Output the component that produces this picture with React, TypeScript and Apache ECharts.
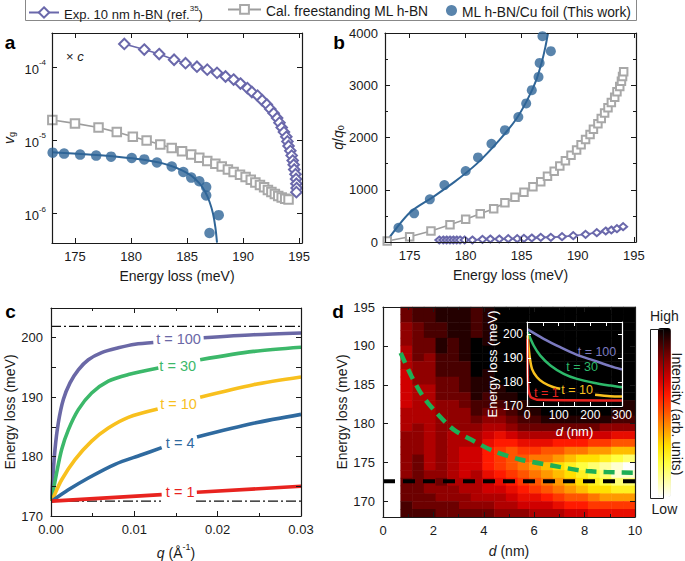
import React, { useEffect, useRef } from 'react';
import * as echarts from 'echarts';

const FONT = '"Liberation Sans", Arial, Helvetica, sans-serif';
const INK = '#1a1a1a';

const EXP = 'Exp. 10 nm h-BN (ref.35)';
const CAL = 'Cal. freestanding ML h-BN';
const CU = 'ML h-BN/Cu foil (This work)';

const PURPLE = '#6a68ab';
const GRAY = '#9d9d9d';
const BLUE = '#2f6597';

// ---------- panel a (group velocity, log) ----------
const expA_E = [179.4, 181.18, 182.51, 183.84, 184.86, 185.88, 186.8, 187.67, 188.43, 189.15, 189.76, 190.38, 190.78, 191.29, 191.7, 192.11, 192.42, 192.72, 193.03, 193.24, 193.44, 193.64, 193.85, 193.95, 194.05, 194.21, 194.33, 194.42, 194.51, 194.56, 194.67, 194.72, 194.75, 194.77, 194.75];
const expA_v = [2.09e-4, 1.75e-4, 1.52e-4, 1.27e-4, 1.14e-4, 1.02e-4, 9.3e-5, 8.4e-5, 7.5e-5, 6.8e-5, 6.0e-5, 5.2e-5, 4.6e-5, 4.1e-5, 3.55e-5, 3.1e-5, 2.7e-5, 2.36e-5, 2.03e-5, 1.75e-5, 1.5e-5, 1.3e-5, 1.12e-5, 9.7e-6, 8.4e-6, 7.2e-6, 6.2e-6, 5.3e-6, 4.65e-6, 4.0e-6, 3.45e-6, 2.97e-6, 2.56e-6, 2.23e-6, 1.96e-6];
const calA_E = [172.98, 175.0, 177.1, 178.73, 180.16, 181.39, 182.61, 183.63, 184.55, 185.37, 186.09, 186.8, 187.52, 188.09, 188.64, 189.15, 189.72, 190.22, 190.68, 191.09, 191.5, 191.87, 192.21, 192.52, 192.83, 193.13, 193.44, 193.75, 194.05];
const calA_v = [1.9e-5, 1.71e-5, 1.5e-5, 1.3e-5, 1.12e-5, 1.0e-5, 8.8e-6, 7.9e-6, 7.1e-6, 6.4e-6, 5.8e-6, 5.25e-6, 4.8e-6, 4.4e-6, 4.0e-6, 3.7e-6, 3.4e-6, 3.15e-6, 2.9e-6, 2.65e-6, 2.45e-6, 2.28e-6, 2.1e-6, 1.97e-6, 1.85e-6, 1.74e-6, 1.65e-6, 1.59e-6, 1.55e-6];
const cuA_E = [173.01, 174.03, 175.46, 176.89, 178.22, 180.06, 181.18, 182.31, 183.63, 184.66, 185.37, 186.09, 186.7, 186.7, 187.82, 187.0];
const cuA_v = [6.8e-6, 6.6e-6, 6.4e-6, 6.2e-6, 6.0e-6, 5.75e-6, 5.5e-6, 5.0e-6, 4.4e-6, 3.7e-6, 3.1e-6, 2.76e-6, 2.3e-6, 1.77e-6, 9.5e-7, 5.4e-7];
const fitA_E = [172.95, 174.85, 176.89, 178.94, 180.98, 182.51, 183.53, 184.55, 185.37, 186.09, 186.6, 187.0, 187.31, 187.52, 187.67];
const fitA_v = [6.9e-6, 6.6e-6, 6.3e-6, 5.95e-6, 5.5e-6, 5.0e-6, 4.5e-6, 3.9e-6, 3.3e-6, 2.6e-6, 2.0e-6, 1.45e-6, 1.0e-6, 6.5e-7, 4.0e-7];

// ---------- panel b (q/q0) ----------
const expB_E = [177.65, 178.0, 178.3, 178.6, 178.9, 179.2, 179.5, 179.9, 180.6, 181.5, 182.2, 183.0, 183.8, 184.6, 185.2, 185.9, 186.7, 187.6, 188.6, 189.6, 190.7, 191.7, 192.5, 193.0, 193.5, 194.05];
const expB_q = [38, 38, 38, 38, 38, 38, 38, 38, 38, 51, 57, 57, 64, 64, 70, 76, 89, 89, 102, 121, 147, 179, 210, 229, 255, 293];
const calB_E = [173.0, 175.0, 176.9, 178.6, 180.0, 181.3, 182.5, 183.5, 184.4, 185.2, 186.0, 186.7, 187.3, 187.9, 188.4, 188.9, 189.4, 189.9, 190.3, 190.7, 191.1, 191.4, 191.8, 192.1, 192.4, 192.7, 193.0, 193.3, 193.5, 193.75, 193.9, 194.0, 194.1];
const calB_q = [20, 101, 210, 331, 434, 541, 637, 752, 855, 950, 1058, 1153, 1256, 1352, 1453, 1554, 1658, 1759, 1860, 1963, 2059, 2160, 2262, 2365, 2467, 2568, 2671, 2772, 2874, 2977, 3078, 3168, 3256];
const cuB_E = [174.0, 175.4, 176.8, 178.1, 180.0, 181.1, 182.3, 183.5, 184.7, 185.4, 185.9, 186.5, 186.6, 186.85, 187.6];
const cuB_q = [273, 549, 816, 1090, 1358, 1619, 1880, 2141, 2390, 2652, 2906, 3160, 3428, 3939, 3652];
const fitB_E = [172.9, 175, 177, 179, 181, 183, 184.5, 185.5, 186.3, 186.8, 187.1, 187.35];
const fitB_q = [0, 560, 850, 1150, 1500, 1950, 2350, 2720, 3100, 3450, 3720, 4000];

// ---------- panel c (dispersion vs q) ----------
const t100L = [[0.0001, 172.5], [0.00016, 175.0], [0.00048, 181.2], [0.00088, 185.7], [0.00148, 189.6], [0.00228, 192.4], [0.00328, 194.6], [0.00448, 196.3], [0.00608, 197.5], [0.00808, 198.3], [0.01008, 198.9], [0.01228, 199.2]];
const t100R = [[0.01832, 200.0], [0.02432, 200.5], [0.03, 200.8]];
const t30L = [[0.0001, 172.5], [0.00016, 173.3], [0.00068, 177.3], [0.00128, 181.2], [0.00208, 184.5], [0.00328, 187.9], [0.00488, 190.7], [0.00688, 192.7], [0.00928, 193.8], [0.01288, 194.9]];
const t30R = [[0.0179, 196.3], [0.0243, 197.7], [0.03, 198.4]];
const t10L = [[0.0001, 172.5], [0.0003, 173.2], [0.00128, 176.1], [0.00288, 179.5], [0.00488, 182.6], [0.00688, 184.8], [0.00928, 186.6], [0.0128, 188.0]];
const t10R = [[0.0179, 190.0], [0.0243, 192.1], [0.03, 193.4]];
const t4L = [[0.0001, 172.5], [0.00208, 174.4], [0.00448, 176.4], [0.00768, 178.7], [0.01088, 180.3], [0.01328, 181.5]];
const t4R = [[0.01752, 183.3], [0.0243, 185.6], [0.03, 187.1]];
const t1L = [[0.0001, 172.5], [0.01328, 173.6]];
const t1R = [[0.0175, 174.0], [0.03, 175.0]];
const upperLimit = [[0, 201.9], [0.03, 201.9]];
const lowerLimitL = [[0, 172.5], [0.0132, 172.5]];
const lowerLimitR = [[0.0174, 172.5], [0.03, 172.5]];
const cLabels = [
  { q: 0.0153, E: 199.7, text: 't = 100', color: '#6a68a6' },
  { q: 0.0152, E: 195.3, text: 't = 30', color: '#3cb86a' },
  { q: 0.0153, E: 188.9, text: 't = 10', color: '#f8c01e' },
  { q: 0.0155, E: 182.2, text: 't = 4', color: '#2f6a9f' },
  { q: 0.0155, E: 174.0, text: 't = 1', color: '#e8231f' },
];

// ---------- panel d (heat map vs d) ----------
const heatCols = ['0.93', '1.40', '1.86', '2.33', '2.79', '3.26', '3.72', '4.19', '4.65', '5.12', '5.58', '6.05', '6.51', '6.98', '7.44', '7.91', '8.37', '8.84', '9.30', '9.77'];
const heatRowsE = [168.5, 169.5, 170.5, 171.5, 172.5, 173.5, 174.5, 175.5, 176.5, 177.5, 178.5, 179.5, 180.5, 181.5, 182.5, 183.5, 184.5, 185.5, 186.5, 187.5, 188.5, 189.5, 190.5, 191.5, 192.5, 193.5, 194.5];
// intensity, rows listed from 194.5 meV (top) down to 168.5 meV (bottom)
const heatTopDown = [
  [8.5, 9, 9, 9.5, 9.5, 9.5, 9, 9.5, 10, 10, 10, 10, 10, 10, 10, 10, 10, 10, 10, 10],
  [8.5, 9, 9, 9.5, 9.5, 9.5, 9, 9.5, 10, 10, 10, 10, 10, 10, 10, 10, 10, 10, 10, 10],
  [8, 8.5, 9, 9, 9.5, 9.5, 9, 9.5, 10, 10, 10, 10, 10, 10, 10, 10, 10, 10, 10, 10],
  [8, 8.5, 9, 9, 9.5, 9.5, 9, 9.5, 10, 10, 10, 10, 10, 10, 10, 10, 10, 10, 10, 10],
  [8, 8.5, 8.5, 9.5, 9, 9.5, 10, 9.5, 10, 10, 10, 10, 10, 10, 10, 10, 10, 10, 10, 10],
  [7.5, 8.5, 8.5, 9.5, 9, 9.5, 10, 10, 10, 10, 10, 10, 10, 10, 10, 10, 10, 10, 10, 10],
  [7.5, 8.5, 8, 9, 9, 9.5, 10, 10, 10, 10, 10, 10, 10, 10, 10, 10, 10, 10, 10, 10],
  [7.5, 8, 8, 9, 9, 9, 10, 10, 10, 10, 10, 10, 10, 10, 10, 10, 10, 10, 10, 10],
  [7, 8, 8, 9, 9, 9, 10, 9.5, 10, 10, 10, 10, 10, 10, 10, 10, 10, 10, 10, 10],
  [7, 8, 8, 8.5, 8.5, 9, 9.5, 9.5, 10, 10, 10, 10, 10, 10, 10, 10, 10, 10, 10, 10],
  [7, 7.5, 7.5, 8.5, 8.5, 9, 9.5, 9.5, 9.5, 10, 10, 10, 10, 10, 10, 10, 10, 10, 10, 10],
  [7, 7.5, 7.5, 8.5, 8.5, 8.5, 9.5, 9, 9.5, 9.5, 10, 10, 10, 10, 10, 10, 10, 10, 10, 10],
  [7, 7.5, 7.5, 8, 8, 8.5, 9, 9, 9, 9.5, 9.5, 10, 10, 10, 10, 10, 10, 10, 10, 9.5],
  [7.5, 7.5, 7.5, 8, 8, 8, 9, 8.5, 8.5, 9, 9.5, 9.5, 10, 10, 10, 10, 10, 10, 9.5, 9.5],
  [7.5, 7.5, 7.5, 8, 8, 8, 8.5, 8, 8, 8.5, 9, 9, 9.5, 9.5, 9.5, 9.5, 9.5, 9.5, 9, 9],
  [7.5, 8, 7.5, 8, 8, 8, 8, 7.5, 7.5, 8, 8.5, 8.5, 8.5, 8.5, 8.5, 8.5, 8.5, 8, 8, 8],
  [8, 8, 7.5, 8, 7.5, 7.5, 7.5, 7, 6.5, 7, 7.5, 7.5, 7.5, 7.5, 7.5, 7, 7, 7, 6.5, 6.5],
  [8, 8, 7.5, 8, 7.5, 7.5, 7.5, 6.5, 6, 6, 6.5, 6.5, 6.5, 6, 6, 6, 5.5, 5.5, 5, 5],
  [8, 8, 7.5, 8, 7.5, 7, 7, 6, 5.5, 5, 5.5, 5.5, 5, 5, 4.5, 4.5, 4, 4, 3.5, 3.5],
  [8, 8.5, 7.5, 8, 7.5, 7, 7, 6, 5.5, 5, 5, 4.5, 4.5, 4, 3.5, 3, 3, 2.5, 2, 1.5],
  [8, 8.5, 7.5, 8, 7.5, 7, 7, 6, 5.5, 5, 4.5, 4, 3.5, 3, 2.5, 2, 1.5, 1, 0.5, 0],
  [8, 8.5, 8, 8, 7.5, 7, 7.5, 6.5, 6, 5.5, 5, 4.5, 4, 3.5, 3, 2.5, 2, 1.5, 0.5, 0.5],
  [8.5, 8.5, 8, 8.5, 7.5, 7.5, 7.5, 7, 6.5, 6, 5.5, 5, 4.5, 4, 3.5, 3, 2.5, 2, 1.5, 1.5],
  [8.5, 8.5, 8, 8, 8, 7.5, 7.5, 7, 7, 6.5, 6, 5.5, 5, 4.5, 4, 3.5, 3, 3, 2.5, 2.5],
  [8.5, 8.5, 8.5, 8, 8, 8, 7.5, 7.5, 7.5, 7, 6.5, 6.5, 6, 5.5, 5, 5, 4.5, 4, 4, 4],
  [9, 8.5, 8.5, 8.5, 8.5, 8, 8, 8, 7.5, 7.5, 7, 7, 7, 6.5, 6, 6, 5.5, 5.5, 5.5, 5.5],
  [9, 9, 9, 8.5, 8.5, 8.5, 8.5, 8.5, 8, 8, 8, 7.5, 7.5, 7.5, 7, 7, 6.5, 6.5, 6.5, 6.5],
];
const greenD = [0.7, 1.13, 1.59, 2.12, 2.78, 3.58, 4.37, 5.43, 6.75, 8.08, 10.0];
const greenE = [189.1, 186.1, 183.5, 181.4, 179.3, 177.8, 176.5, 175.4, 174.6, 173.9, 173.7];
const phononLine = [[0, 172.6], [10, 172.6]];

// ---------- inset (energy vs d, 0-300 nm) ----------
const in100 = [[2, 201.9], [52.6, 198.0], [105, 194.5], [158, 191.3], [210, 189.0], [263, 186.6], [300, 185.2]];
const in30 = [[2, 200.8], [21, 195.2], [42, 191.0], [74, 186.9], [116, 183.4], [158, 181.3], [210, 179.7], [263, 178.5], [300, 177.8]];
const in10L = [[2, 199.4], [8, 191.0], [15.8, 185.5], [31.6, 182.0], [52.6, 179.7], [84, 177.8], [105, 177.2]];
const in10R = [[215, 174.7], [263, 174.1], [300, 174.0]];
const in1 = [[1, 198.0], [2, 184.1], [5, 176.5], [12, 173.7], [31.6, 172.6], [300, 172.3]];
const inLabels = [
  { d: 221, E: 192.4, text: 't = 100', color: '#7b7ac0' },
  { d: 174, E: 186.2, text: 't = 30', color: '#2db96a' },
  { d: 158, E: 176.5, text: 't = 10', color: '#f8c01e' },
  { d: 61, E: 175.5, text: 't = 1', color: '#e8231f' },
];

const zip = (xs: number[], ys: number[]) => xs.map((x, i) => [x, ys[i]]);

function richFor(color: string, size: number) {
  return {
    n: { fontSize: size, lineHeight: size + 4, verticalAlign: 'bottom', color, fontFamily: FONT },
    i: { fontSize: size, lineHeight: size + 4, verticalAlign: 'bottom', fontStyle: 'italic', color, fontFamily: FONT },
    sup: { fontSize: Math.round(size * 0.65), lineHeight: Math.round(size * 0.6), verticalAlign: 'top', color, fontFamily: FONT },
    sub: { fontSize: Math.round(size * 0.65), lineHeight: Math.round(size * 0.6), verticalAlign: 'bottom', color, fontFamily: FONT },
  };
}

function mkAxis(pos: string, gridIndex: number, cfg: any, color = INK, fontSize = 13) {
  const primary = pos === 'bottom' || pos === 'left';
  return {
    type: cfg.type || 'value',
    gridIndex,
    position: pos,
    min: cfg.min,
    max: cfg.max,
    interval: cfg.interval,
    splitLine: { show: false },
    axisLine: { show: true, onZero: false, lineStyle: { color, width: 1.2 } },
    axisTick: { show: true, inside: true, length: cfg.tickLen || 5, lineStyle: { color, width: 1 } },
    minorTick: cfg.minorSplit
      ? { show: true, splitNumber: cfg.minorSplit, length: cfg.minorLen || 3, lineStyle: { color, width: 1 } }
      : { show: false },
    axisLabel: primary
      ? {
          show: true,
          color,
          fontSize,
          fontFamily: FONT,
          margin: cfg.margin ?? 7,
          formatter: cfg.fmt || ((v: number) => String(v)),
          showMinLabel: cfg.showMinLabel,
          showMaxLabel: cfg.showMaxLabel,
          rich: richFor(color, fontSize),
        }
      : { show: false },
    name: primary ? cfg.name : '',
    nameLocation: 'middle',
    nameGap: cfg.nameGap,
    nameTextStyle: { color, fontSize: cfg.nameSize || 14, fontFamily: FONT, rich: richFor(color, cfg.nameSize || 14) },
    z: 5,
  };
}

function buildOption() {
  const xA = { min: 172.95, max: 195.25, showMinLabel: false, showMaxLabel: false, name: 'Energy loss (meV)', nameGap: 26 };
  const yA = {
    type: 'log', min: 3.95e-7, max: 2.95e-4, showMinLabel: false, showMaxLabel: false,
    fmt: (v: number) => `{n|10}{sup|${Math.round(Math.log10(v))}}`,
    name: '{i|v}{sub|g}', nameGap: 36, margin: 6,
  };
  const xB = { min: 172.8, max: 195.2, showMinLabel: false, showMaxLabel: false, name: 'Energy loss (meV)', nameGap: 26 };
  const yB = { min: 0, max: 4000, interval: 1000, minorSplit: 2, name: '{i|q}{n|/}{i|q}{sub|0}', nameGap: 38, margin: 7 };
  const xC = { min: 0, max: 0.03, interval: 0.01, minorSplit: 2, fmt: (v: number) => v.toFixed(2), name: '{i|q}{n| (Å}{sup|-1}{n|)}', nameGap: 26 };
  const yC = { min: 170, max: 205, interval: 5, fmt: (v: number) => (v % 10 === 0 ? String(v) : ''), showMaxLabel: false, name: 'Energy loss (meV)', nameGap: 33, margin: 8 };
  const xD = { min: 0, max: 10, interval: 2, minorSplit: 2, name: '{i|d}{n| (nm)}', nameGap: 23 };
  const yD = { min: 168, max: 195, showMinLabel: false, name: 'Energy loss (meV)', nameGap: 32, margin: 8 };
  const xI = { min: 0, max: 300, interval: 100, minorSplit: 2, name: '{i|d}{n| (nm)}', nameGap: 15, nameSize: 13, margin: 3, tickLen: 4, minorLen: 4 };
  const yI = { min: 170, max: 205, interval: 10, showMaxLabel: false, name: 'Energy loss (meV)', nameGap: 27, nameSize: 13, margin: 4, tickLen: 4 };

  const W = '#ffffff';
  const xAxis = [
    mkAxis('bottom', 0, xA), mkAxis('top', 0, xA),
    mkAxis('bottom', 1, xB), mkAxis('top', 1, xB),
    mkAxis('bottom', 2, xC), mkAxis('top', 2, xC),
    mkAxis('bottom', 3, xD), mkAxis('top', 3, xD),
    { type: 'category', gridIndex: 4, data: heatCols, show: false },
    mkAxis('bottom', 5, xI, W, 12), mkAxis('top', 5, xI, W, 12),
  ];
  const yAxis = [
    mkAxis('left', 0, yA), mkAxis('right', 0, yA),
    mkAxis('left', 1, yB), mkAxis('right', 1, yB),
    mkAxis('left', 2, yC), mkAxis('right', 2, yC),
    mkAxis('left', 3, yD), mkAxis('right', 3, yD),
    { type: 'category', gridIndex: 4, data: heatRowsE.map(String), show: false },
    mkAxis('left', 5, yI, W, 12), mkAxis('right', 5, yI, W, 12),
  ];

  const heatData: number[][] = [];
  heatTopDown.forEach((row, r) => {
    const yi = heatTopDown.length - 1 - r;
    row.forEach((v, c) => heatData.push([c, yi, v]));
  });

  const line = (xi: number, yi: number, data: any[], color: string, width: number, extra: any = {}) => ({
    type: 'line', xAxisIndex: xi, yAxisIndex: yi, data, showSymbol: false, symbol: 'none', smooth: 0.3,
    lineStyle: { color, width }, z: 4, silent: true, ...extra,
  });

  const labelSeries = (xi: number, yi: number, items: any[], size: number) => ({
    type: 'scatter', xAxisIndex: xi, yAxisIndex: yi, symbolSize: 1, silent: true, z: 6,
    itemStyle: { color: 'rgba(0,0,0,0)' },
    data: items,
    label: { show: true, position: 'inside', formatter: '{b}', fontSize: size, fontFamily: FONT, opacity: 1 },
  });

  const series: any[] = [
    {
      type: 'heatmap', xAxisIndex: 8, yAxisIndex: 8, data: heatData, z: 1, silent: true,
      itemStyle: { borderWidth: 0 }, emphasis: { disabled: true },
    },
    // panel a
    {
      name: CAL, type: 'line', xAxisIndex: 0, yAxisIndex: 0, data: zip(calA_E, calA_v),
      symbol: 'emptyRect', symbolSize: 8.5, lineStyle: { color: GRAY, width: 1.6 },
      itemStyle: { color: '#a8a8a8', borderWidth: 1 }, z: 4,
    },
    {
      name: EXP, type: 'line', xAxisIndex: 0, yAxisIndex: 0, data: zip(expA_E, expA_v),
      symbol: 'emptyDiamond', symbolSize: 10.5, lineStyle: { color: PURPLE, width: 1.6 },
      itemStyle: { color: PURPLE, borderWidth: 1 }, z: 4,
    },
    line(0, 0, zip(fitA_E, fitA_v), BLUE, 2),
    {
      name: CU, type: 'scatter', xAxisIndex: 0, yAxisIndex: 0, data: zip(cuA_E, cuA_v),
      symbol: 'circle', symbolSize: 10.5, itemStyle: { color: BLUE }, z: 5,
    },
    // panel b
    {
      name: CAL, type: 'line', xAxisIndex: 2, yAxisIndex: 2, data: zip(calB_E, calB_q),
      symbol: 'emptyRect', symbolSize: 7.5, lineStyle: { color: GRAY, width: 1.6 },
      itemStyle: { color: '#a8a8a8', borderWidth: 1 }, z: 4,
    },
    {
      name: EXP, type: 'line', xAxisIndex: 2, yAxisIndex: 2, data: zip(expB_E, expB_q),
      symbol: 'emptyDiamond', symbolSize: [8, 7], lineStyle: { color: PURPLE, width: 1.6 },
      itemStyle: { color: PURPLE, borderWidth: 1 }, z: 4,
    },
    line(2, 2, zip(fitB_E, fitB_q), BLUE, 2),
    {
      name: CU, type: 'scatter', xAxisIndex: 2, yAxisIndex: 2, data: zip(cuB_E, cuB_q),
      symbol: 'circle', symbolSize: 10, itemStyle: { color: BLUE }, z: 5,
    },
    // panel c
    line(4, 4, upperLimit, '#111', 1.2, { smooth: false, lineStyle: { color: '#111', width: 1.2, type: [10, 3, 2, 3] } }),
    line(4, 4, lowerLimitL, '#111', 1.2, { smooth: false, lineStyle: { color: '#111', width: 1.2, type: [10, 3, 2, 3] } }),
    line(4, 4, lowerLimitR, '#111', 1.2, { smooth: false, lineStyle: { color: '#111', width: 1.2, type: [10, 3, 2, 3] } }),
    line(4, 4, t100L, '#6a68a6', 3.6), line(4, 4, t100R, '#6a68a6', 3.6),
    line(4, 4, t30L, '#3cb86a', 3.6), line(4, 4, t30R, '#3cb86a', 3.6),
    line(4, 4, t10L, '#f8c01e', 3.6), line(4, 4, t10R, '#f8c01e', 3.6),
    line(4, 4, t4L, '#2f6a9f', 3.6), line(4, 4, t4R, '#2f6a9f', 3.6),
    line(4, 4, t1L, '#e8231f', 3.6, { smooth: false }), line(4, 4, t1R, '#e8231f', 3.6, { smooth: false }),
    labelSeries(4, 4, cLabels.map((l) => ({ value: [l.q, l.E], name: l.text, label: { color: l.color } })), 14.5),
    // panel d
    line(6, 6, phononLine, '#000', 4, { smooth: false, lineStyle: { color: '#000', width: 4, type: [12, 8] } }),
    line(6, 6, zip(greenD, greenE), '#1daf55', 4.5, { lineStyle: { color: '#1daf55', width: 4.5, type: [11, 7] } }),
    // inset
    line(9, 9, in100, '#7b7ac0', 2.5),
    line(9, 9, in30, '#2db96a', 2.5),
    line(9, 9, in10L, '#f8c01e', 2.5), line(9, 9, in10R, '#f8c01e', 2.5),
    line(9, 9, in1, '#e8231f', 2.5, { smooth: 0.15 }),
    labelSeries(9, 9, inLabels.map((l) => ({ value: [l.d, l.E], name: l.text, label: { color: l.color } })), 12.5),
  ];

  const legendBase = {
    orient: 'horizontal', top: 4, padding: 0, itemGap: 0, selectedMode: false,
  };
  const legendText = (size: number) => ({ fontSize: size, color: INK, fontFamily: FONT, rich: richFor(INK, size) });

  return {
    animation: false,
    backgroundColor: '#ffffff',
    textStyle: { fontFamily: FONT },
    grid: [
      { left: 52, top: 33, width: 250, height: 210 },
      { left: 385, top: 33, width: 251, height: 209 },
      { left: 51, top: 308, width: 250, height: 208.5 },
      { left: 383, top: 307, width: 252, height: 210 },
      { left: 383 + 0.7 * 25.2, top: 307, width: 252 - 0.7 * 25.2, height: 210 },
      { left: 527, top: 322, width: 95, height: 84 },
    ],
    xAxis,
    yAxis,
    legend: [
      { ...legendBase, left: 28, itemWidth: 30, itemHeight: 13, data: [EXP], textStyle: legendText(13), formatter: () => '{n|Exp. 10 nm h-BN (ref.}{sup|35}{n|)}' },
      { ...legendBase, left: 227, itemWidth: 33, itemHeight: 11, data: [CAL], textStyle: legendText(13.8), formatter: '{n|{name}}' },
      { ...legendBase, left: 446, top: 5, itemWidth: 11, itemHeight: 11, data: [CU], textStyle: legendText(13.8), formatter: '{n|{name}}' },
    ],
    visualMap: {
      type: 'continuous', seriesIndex: 0, min: 0, max: 10, show: true, calculable: false, hoverLink: false,
      orient: 'vertical', left: 650, top: 309, itemWidth: 13, itemHeight: 169, padding: 0, textGap: 5,
      text: ['High', 'Low'], textStyle: { fontSize: 14, color: INK, fontFamily: FONT },
      inRange: { color: ['#ffffff', '#ffffa0', '#ffff40', '#ffe000', '#ff9900', '#ff5500', '#ff1a00', '#d00000', '#900000', '#480000', '#000000'] },
    },
    graphic: [
      { type: 'rect', shape: { x: 25.5, y: -3, width: 611, height: 23.5 }, style: { fill: 'none', stroke: '#888', lineWidth: 1 } },
      { type: 'text', x: 10, y: 52, style: { text: 'a', fontSize: 19, fontWeight: 'bold', fontFamily: FONT, fill: '#000', align: 'center', verticalAlign: 'bottom' } },
      { type: 'text', x: 339, y: 52, style: { text: 'b', fontSize: 19, fontWeight: 'bold', fontFamily: FONT, fill: '#000', align: 'center', verticalAlign: 'bottom' } },
      { type: 'text', x: 10.5, y: 320.5, style: { text: 'c', fontSize: 19, fontWeight: 'bold', fontFamily: FONT, fill: '#000', align: 'center', verticalAlign: 'bottom' } },
      { type: 'text', x: 338, y: 320.5, style: { text: 'd', fontSize: 19, fontWeight: 'bold', fontFamily: FONT, fill: '#000', align: 'center', verticalAlign: 'bottom' } },
      {
        type: 'text', x: 66, y: 54, z: 10,
        style: { text: '{n|× }{i|c}', rich: richFor(INK, 13), align: 'left', verticalAlign: 'middle', fill: INK },
      },
      { type: 'rect', z: 100, shape: { x: 650.5, y: 329.5, width: 13, height: 169 }, style: { fill: 'none', stroke: '#222', lineWidth: 1 } },
      {
        type: 'text', x: 677, y: 414, rotation: -Math.PI / 2,
        style: { text: 'Intensity (arb. units)', fontSize: 14, fontFamily: FONT, fill: INK, align: 'center', verticalAlign: 'middle' },
      },
    ],
    series,
  };
}

export default function App() {
  const ref = useRef<HTMLDivElement>(null);
  useEffect(() => {
    if (!ref.current) return;
    const chart = echarts.init(ref.current, null, { renderer: 'svg' });
    chart.setOption(buildOption() as any);
    return () => chart.dispose();
  }, []);
  return <div ref={ref} style={{ position: 'absolute', left: 0, top: 0, width: 685, height: 561 }} />;
}
